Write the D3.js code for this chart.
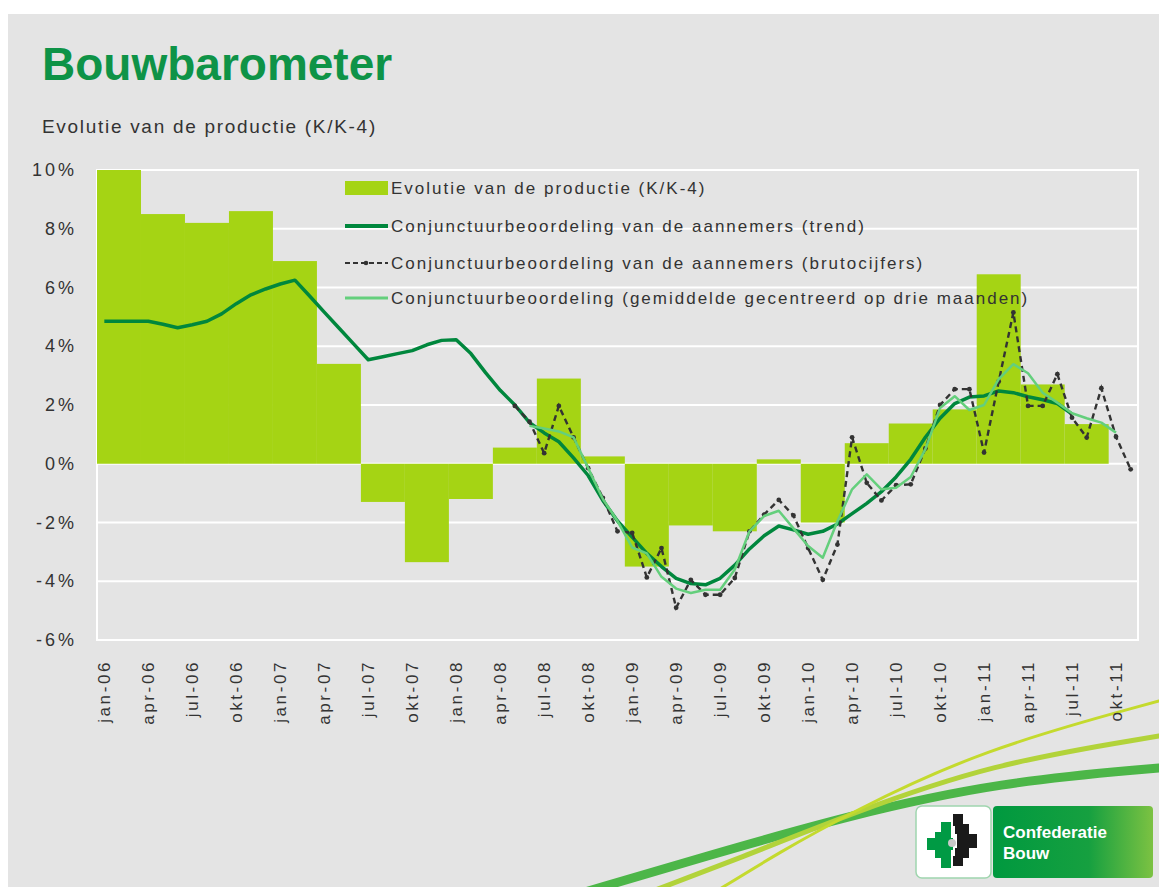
<!DOCTYPE html>
<html lang="nl">
<head>
<meta charset="utf-8"/>
<title>Bouwbarometer</title>
<script src="https://cdn.jsdelivr.net/npm/d3@7"></script>
<style>
  body { margin: 0; background: #fff; }
  text { font-family: "Liberation Sans", Arial, sans-serif; }
</style>
</head>
<body>
<svg id="chart" width="1159" height="887"></svg>
<script>
// maanden en jaren -> categorieen jan-06 .. nov-11
const maanden = ["jan", "feb", "mrt", "apr", "mei", "jun", "jul", "aug", "sep", "okt", "nov", "dec"];
const jaren = ["06", "07", "08", "09", "10", "11"];
const aantalMaanden = 71;

// kwartaalcijfers, vanaf jan-06 (K/K-4, %)
const productie = [10, 8.5, 8.2, 8.6, 6.9, 3.4, -1.3, -3.35, -1.2, 0.55, 2.9, 0.25,
    -3.5, -2.1, -2.3, 0.15, -2.0, 0.7, 1.37, 1.85, 6.45, 2.7, 1.35];

// maandelijkse trend, vanaf jan-06
const trend = [4.85, 4.85, 4.85, 4.85, 4.75, 4.63, 4.73, 4.85, 5.1, 5.45, 5.75, 5.95,
    6.12, 6.25, 5.71, 5.16, 4.62, 4.08, 3.54, 3.64, 3.75, 3.85, 4.05, 4.2,
    4.22, 3.75, 3.1, 2.5, 2.0, 1.4, 1.05, 0.75, 0.2, -0.4, -1.25, -1.95,
    -2.5, -3.05, -3.5, -3.9, -4.08, -4.12, -3.9, -3.45, -2.9, -2.45, -2.12, -2.25,
    -2.4, -2.3, -2.05, -1.7, -1.35, -0.95, -0.45, 0.15, 0.9, 1.55, 2.05, 2.27,
    2.31, 2.48, 2.42, 2.28, 2.18, 2.05, 1.69];

// brutocijfers, vanaf mei-08
const brutoStart = "mei-08";
const bruto = [1.97, 1.43, 0.36, 1.97, 0.9, -0.15, -1.16, -2.3, -2.35, -3.87,
    -2.87, -4.9, -3.95, -4.46, -4.46, -3.89, -2.3, -1.73, -1.23, -1.76,
    -2.87, -3.95, -2.75, 0.9, -0.65, -1.25, -0.73, -0.7, 0.52, 2.0,
    2.54, 2.54, 0.38, 2.8, 5.15, 1.97, 1.97, 3.05, 1.57, 0.89,
    2.57, 0.92, -0.19];

// gemiddelde gecentreerd op drie maanden, vanaf jun-08
const gemStart = "jun-08";
const gemiddelde = [1.29, 1.2, 1.1, 0.9, -0.15, -1.2, -1.95, -2.85, -3.05, -3.85,
    -4.25, -4.4, -4.29, -4.29, -3.6, -2.3, -1.78, -1.6, -2.2, -2.8,
    -3.2, -1.96, -0.87, -0.36, -0.87, -0.82, -0.45, 0.5, 1.9, 2.3,
    1.83, 2.0, 2.88, 3.39, 3.08, 2.42, 2.08, 1.72, 1.55, 1.4, 1.06];

const yTicks = [10, 8, 6, 4, 2, 0, -2, -4, -6];

const legendaTeksten = [
    "Evolutie van de productie (K/K-4)",
    "Conjunctuurbeoordeling  van de aannemers (trend)",
    "Conjunctuurbeoordeling  van de aannemers (brutocijfers)",
    "Conjunctuurbeoordeling  (gemiddelde gecentreerd op drie maanden)"
];

const categorieen = [];
jaren.forEach(j => maanden.forEach(m => categorieen.push(m + "-" + j)));
categorieen.length = aantalMaanden;

const svg = d3.select("#chart");

// achtergrond
svg.append("rect").attr("x", 8).attr("y", 14).attr("width", 1151).attr("height", 873)
    .attr("fill", "#e4e4e4");

// decoratieve bogen rechtsonder
const boog = d3.line().curve(d3.curveBasis);
const bogen = [
    {pts: [[585, 892], [700, 858], [850, 815], [1000, 782], [1159, 768]], kleur: "#4cb648", dikte: 9},
    {pts: [[650, 892], [740, 858], [850, 814], [990, 764], [1159, 736]], kleur: "#b2d33a", dikte: 5},
    {pts: [[715, 892], [780, 852], [850, 813], [980, 750], [1159, 701]], kleur: "#c4da2e", dikte: 3}
];
svg.append("g").selectAll("path").data(bogen).enter().append("path")
    .attr("d", d => boog(d.pts))
    .attr("fill", "none")
    .attr("stroke", d => d.kleur)
    .attr("stroke-width", d => d.dikte)
    .attr("stroke-linecap", "round");

// titel
svg.append("text").attr("x", 42).attr("y", 80)
    .style("font-size", "46px").style("font-weight", "bold").style("fill", "#0e9347")
    .text("Bouwbarometer");
svg.append("text").attr("x", 42).attr("y", 133)
    .style("font-size", "19px").style("fill", "#333").style("letter-spacing", "1.7px")
    .text("Evolutie van de productie (K/K-4)");

// schalen
const x = d3.scaleBand().domain(categorieen).range([97, 1138]).padding(0);
const y = d3.scaleLinear().domain([-6, 10]).range([640, 170]);
const xc = c => x(c) + x.bandwidth() / 2;

// raster
const plot = svg.append("g");
plot.selectAll("line.grid").data(yTicks).enter().append("line")
    .attr("class", "grid")
    .attr("x1", 97).attr("x2", 1138)
    .attr("y1", d => y(d)).attr("y2", d => y(d))
    .attr("stroke", "#fff").attr("stroke-width", 2);
plot.append("rect").attr("x", 97).attr("y", y(10)).attr("width", 1041).attr("height", y(-6) - y(10))
    .attr("fill", "none").attr("stroke", "#fff").attr("stroke-width", 2);

// kwartaalstaven
plot.selectAll("rect.bar").data(productie).enter().append("rect")
    .attr("class", "bar")
    .attr("x", (d, i) => x(categorieen[i * 3]))
    .attr("width", x.bandwidth() * 3)
    .attr("y", d => y(Math.max(0, d)))
    .attr("height", d => Math.abs(y(d) - y(0)))
    .attr("fill", "#a5d414");

// lijnen
const lijn = d3.line().x(d => xc(d.c)).y(d => y(d.v));
const reeks = (waarden, start) => {
    const s = categorieen.indexOf(start);
    return waarden.map((v, i) => ({c: categorieen[s + i], v: v}));
};

const trendData = reeks(trend, "jan-06");
const brutoData = reeks(bruto, brutoStart);
const gemData = reeks(gemiddelde, gemStart);

plot.append("path").datum(trendData)
    .attr("d", lijn).attr("fill", "none")
    .attr("stroke", "#00873d").attr("stroke-width", 3.5).attr("stroke-linejoin", "round");

plot.append("path").datum(brutoData)
    .attr("d", lijn).attr("fill", "none")
    .attr("stroke", "#333").attr("stroke-width", 2.4).attr("stroke-dasharray", "6,4");
plot.selectAll("circle.bruto").data(brutoData).enter().append("circle")
    .attr("class", "bruto")
    .attr("cx", d => xc(d.c)).attr("cy", d => y(d.v)).attr("r", 2.4)
    .attr("fill", "#333");

plot.append("path").datum(gemData)
    .attr("d", lijn).attr("fill", "none")
    .attr("stroke", "#64cf7c").attr("stroke-width", 2.5).attr("stroke-linejoin", "round");

// y-as labels
svg.append("g").selectAll("text").data(yTicks).enter().append("text")
    .attr("x", 77).attr("y", d => y(d) + 6)
    .attr("text-anchor", "end")
    .style("font-size", "18px").style("fill", "#333").style("letter-spacing", "3px")
    .text(d => d + "%");

// x-as labels (elk kwartaal)
const kwartalen = categorieen.filter((c, i) => i % 3 === 0);
svg.append("g").selectAll("text").data(kwartalen).enter().append("text")
    .attr("transform", d => "translate(" + (xc(d) + 6) + ",660) rotate(-90)")
    .attr("text-anchor", "end")
    .style("font-size", "17px").style("fill", "#333").style("letter-spacing", "2.6px")
    .text(d => d);

// legenda
const leg = svg.append("g");
const legY = [188, 226, 263, 298];
leg.append("rect").attr("x", 345).attr("y", legY[0] - 7).attr("width", 43).attr("height", 14).attr("fill", "#a5d414");
leg.append("line").attr("x1", 345).attr("x2", 388).attr("y1", legY[1]).attr("y2", legY[1])
    .attr("stroke", "#00873d").attr("stroke-width", 4);
leg.append("line").attr("x1", 345).attr("x2", 388).attr("y1", legY[2]).attr("y2", legY[2])
    .attr("stroke", "#333").attr("stroke-width", 2).attr("stroke-dasharray", "5,3");
leg.append("circle").attr("cx", 366).attr("cy", legY[2]).attr("r", 2.3).attr("fill", "#333");
leg.append("line").attr("x1", 345).attr("x2", 388).attr("y1", legY[3]).attr("y2", legY[3])
    .attr("stroke", "#64cf7c").attr("stroke-width", 3);
leg.selectAll("text").data(legendaTeksten).enter().append("text")
    .attr("x", 391).attr("y", (d, i) => legY[i] + 6)
    .style("font-size", "17px").style("fill", "#333").style("letter-spacing", "2px")
    .text(d => d);

// logo Confederatie Bouw
const logo = svg.append("g");
const grad = svg.append("defs").append("linearGradient").attr("id", "logoGrad")
    .attr("x1", "0").attr("x2", "1").attr("y1", "0").attr("y2", "0");
grad.append("stop").attr("offset", "0").attr("stop-color", "#00993f");
grad.append("stop").attr("offset", "0.6").attr("stop-color", "#16a040");
grad.append("stop").attr("offset", "1").attr("stop-color", "#7cc242");
logo.append("rect").attr("x", 916).attr("y", 806).attr("width", 75).attr("height", 72).attr("rx", 6)
    .attr("fill", "#fff").attr("stroke", "#9fd5ae").attr("stroke-width", 1.5);
logo.append("rect").attr("x", 993).attr("y", 806).attr("width", 160).attr("height", 72).attr("rx", 4)
    .attr("fill", "url(#logoGrad)");
const groen = [[941, 822, 10, 12], [935, 832, 16, 10], [927, 838, 26, 12], [935, 848, 16, 10], [941, 856, 10, 12]];
const zwart = [[953, 814, 10, 12], [955, 824, 14, 10], [957, 834, 20, 14], [955, 848, 14, 10], [953, 856, 10, 10]];
logo.selectAll("rect.g").data(groen).enter().append("rect").attr("class", "g")
    .attr("x", d => d[0]).attr("y", d => d[1]).attr("width", d => d[2]).attr("height", d => d[3]).attr("fill", "#009a44");
logo.selectAll("rect.z").data(zwart).enter().append("rect").attr("class", "z")
    .attr("x", d => d[0]).attr("y", d => d[1]).attr("width", d => d[2]).attr("height", d => d[3]).attr("fill", "#1a1a1a");
logo.append("circle").attr("cx", 952).attr("cy", 843).attr("r", 4).attr("fill", "#c8c8c8");
logo.append("text").attr("x", 1003).attr("y", 838).style("font-size", "17px").style("font-weight", "bold")
    .style("fill", "#fff").text("Confederatie");
logo.append("text").attr("x", 1003).attr("y", 859).style("font-size", "17px").style("font-weight", "bold")
    .style("fill", "#fff").text("Bouw");
</script>
</body>
</html>
